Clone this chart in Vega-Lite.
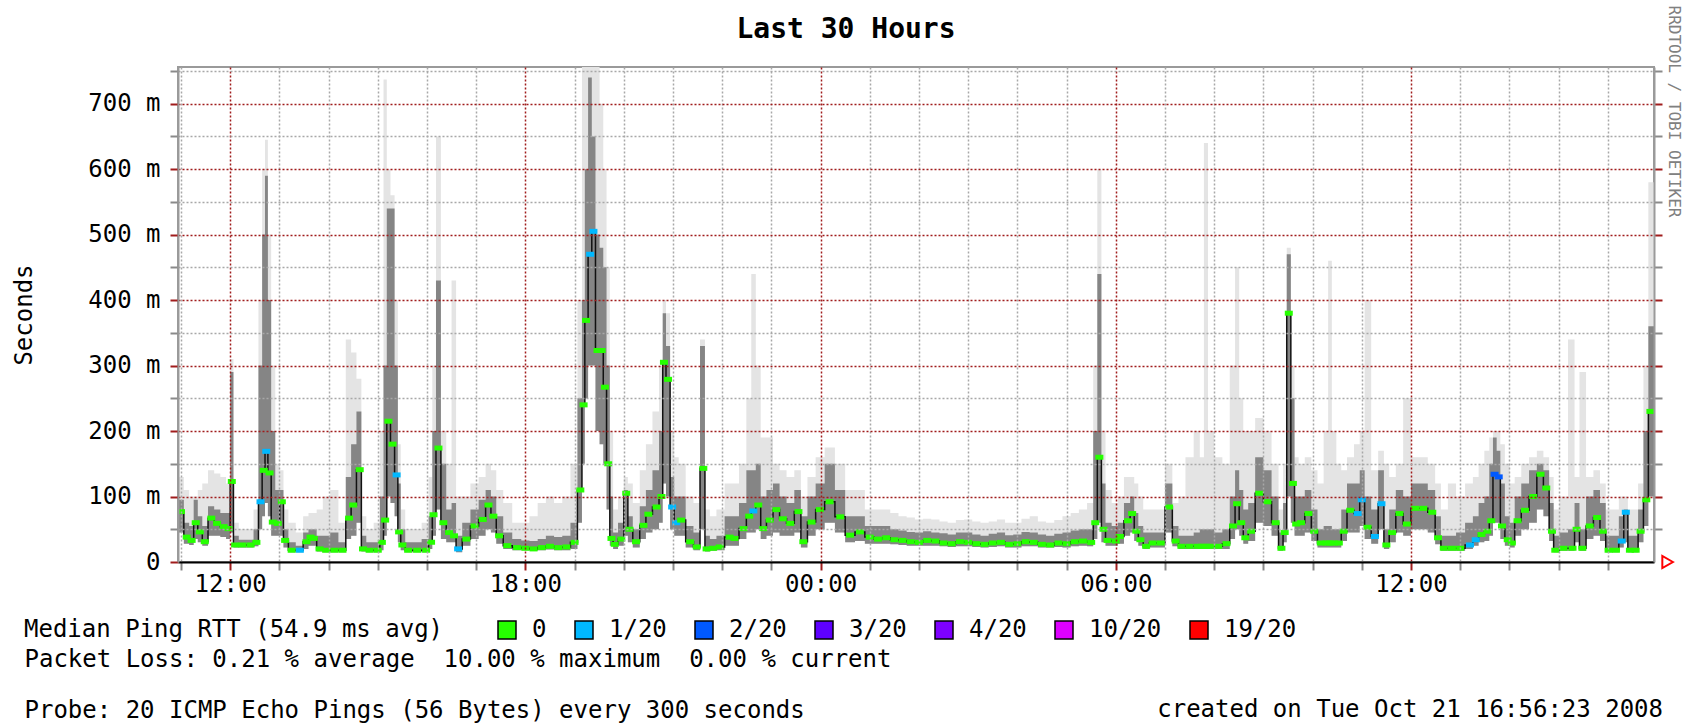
{
  "$schema": "https://vega.github.io/schema/vega-lite/v6.json",
  "width": 1476,
  "height": 495,
  "autosize": "none",
  "padding": {"left": 178, "top": 67, "right": 41, "bottom": 162},
  "background": "white",
  "config": {"view": {"stroke": "#9a9a9a", "strokeWidth": 2}, "font": "DejaVu Sans Mono"},
  "title": {"text": "Last 30 Hours", "anchor": "middle", "dx": -70, "offset": -39, "fontSize": 28, "fontWeight": "bold", "font": "DejaVu Sans Mono", "color": "black"},
  "datasets": {
    "ping": [
      {"m":650,"d":70,"a":45,"b":95,"c":130,"l":0},
      {"m":660,"d":77,"a":45,"b":95,"c":130,"l":0},
      {"m":667,"d":38,"a":28,"b":60,"c":110,"l":0},
      {"m":673,"d":33,"a":26,"b":55,"c":100,"l":0},
      {"m":678,"d":60,"a":35,"b":95,"c":100,"l":0},
      {"m":683,"d":46,"a":30,"b":70,"c":110,"l":0},
      {"m":689,"d":31,"a":25,"b":55,"c":120,"l":0},
      {"m":697,"d":67,"a":40,"b":85,"c":140,"l":0},
      {"m":704,"d":59,"a":40,"b":80,"c":135,"l":0},
      {"m":712,"d":54,"a":38,"b":75,"c":130,"l":0},
      {"m":718,"d":51,"a":35,"b":75,"c":120,"l":0},
      {"m":722,"d":123,"a":45,"b":290,"c":310,"l":0},
      {"m":726,"d":26,"a":22,"b":40,"c":60,"l":0},
      {"m":735,"d":26,"a":22,"b":34,"c":50,"l":0},
      {"m":745,"d":26,"a":22,"b":34,"c":50,"l":0},
      {"m":752,"d":30,"a":24,"b":50,"c":80,"l":0},
      {"m":757,"d":92,"a":50,"b":300,"c":400,"l":1},
      {"m":761,"d":140,"a":70,"b":500,"c":600,"l":0},
      {"m":764,"d":169,"a":90,"b":590,"c":645,"l":1},
      {"m":768,"d":136,"a":70,"b":400,"c":500,"l":0},
      {"m":772,"d":61,"a":40,"b":200,"c":300,"l":0},
      {"m":778,"d":59,"a":40,"b":110,"c":150,"l":0},
      {"m":783,"d":92,"a":40,"b":110,"c":140,"l":0},
      {"m":787,"d":33,"a":22,"b":50,"c":80,"l":0},
      {"m":795,"d":18,"a":15,"b":30,"c":60,"l":0},
      {"m":805,"d":18,"a":15,"b":25,"c":45,"l":1},
      {"m":813,"d":31,"a":20,"b":45,"c":70,"l":0},
      {"m":818,"d":38,"a":25,"b":50,"c":75,"l":0},
      {"m":822,"d":36,"a":25,"b":50,"c":75,"l":0},
      {"m":829,"d":20,"a":16,"b":40,"c":80,"l":0},
      {"m":837,"d":18,"a":15,"b":40,"c":100,"l":0},
      {"m":847,"d":18,"a":15,"b":45,"c":110,"l":0},
      {"m":857,"d":18,"a":15,"b":30,"c":60,"l":0},
      {"m":865,"d":67,"a":35,"b":130,"c":340,"l":0},
      {"m":870,"d":87,"a":40,"b":180,"c":320,"l":0},
      {"m":878,"d":141,"a":60,"b":230,"c":280,"l":0},
      {"m":882,"d":20,"a":16,"b":40,"c":70,"l":0},
      {"m":890,"d":18,"a":15,"b":30,"c":50,"l":0},
      {"m":900,"d":18,"a":15,"b":30,"c":60,"l":0},
      {"m":905,"d":30,"a":18,"b":100,"c":200,"l":0},
      {"m":909,"d":64,"a":40,"b":300,"c":737,"l":0},
      {"m":913,"d":215,"a":100,"b":540,"c":600,"l":0},
      {"m":918,"d":180,"a":90,"b":540,"c":560,"l":0},
      {"m":923,"d":133,"a":70,"b":300,"c":400,"l":1},
      {"m":926,"d":46,"a":30,"b":120,"c":180,"l":0},
      {"m":930,"d":26,"a":18,"b":50,"c":80,"l":0},
      {"m":937,"d":18,"a":15,"b":30,"c":50,"l":0},
      {"m":948,"d":18,"a":15,"b":30,"c":50,"l":0},
      {"m":959,"d":18,"a":15,"b":35,"c":60,"l":0},
      {"m":965,"d":30,"a":20,"b":70,"c":130,"l":0},
      {"m":968,"d":72,"a":40,"b":200,"c":300,"l":0},
      {"m":974,"d":174,"a":80,"b":430,"c":650,"l":0},
      {"m":980,"d":60,"a":35,"b":150,"c":200,"l":0},
      {"m":987,"d":45,"a":30,"b":80,"c":150,"l":0},
      {"m":993,"d":40,"a":30,"b":90,"c":430,"l":0},
      {"m":998,"d":20,"a":15,"b":40,"c":100,"l":1},
      {"m":1008,"d":35,"a":25,"b":60,"c":100,"l":0},
      {"m":1018,"d":55,"a":35,"b":80,"c":120,"l":0},
      {"m":1028,"d":65,"a":40,"b":95,"c":130,"l":0},
      {"m":1035,"d":87,"a":50,"b":110,"c":150,"l":0},
      {"m":1041,"d":70,"a":45,"b":100,"c":140,"l":0},
      {"m":1048,"d":40,"a":28,"b":70,"c":110,"l":0},
      {"m":1058,"d":25,"a":20,"b":45,"c":90,"l":0},
      {"m":1070,"d":22,"a":18,"b":35,"c":60,"l":0},
      {"m":1080,"d":21,"a":18,"b":33,"c":60,"l":0},
      {"m":1090,"d":20,"a":17,"b":32,"c":70,"l":0},
      {"m":1100,"d":22,"a":18,"b":35,"c":90,"l":0},
      {"m":1110,"d":24,"a":19,"b":40,"c":100,"l":0},
      {"m":1120,"d":22,"a":18,"b":38,"c":90,"l":0},
      {"m":1130,"d":23,"a":18,"b":40,"c":100,"l":0},
      {"m":1140,"d":30,"a":20,"b":60,"c":150,"l":0},
      {"m":1147,"d":110,"a":60,"b":250,"c":400,"l":0},
      {"m":1151,"d":240,"a":150,"b":400,"c":756,"l":0},
      {"m":1154,"d":369,"a":250,"b":600,"c":756,"l":0},
      {"m":1159,"d":470,"a":300,"b":740,"c":756,"l":1},
      {"m":1163,"d":505,"a":300,"b":650,"c":756,"l":1},
      {"m":1168,"d":323,"a":200,"b":500,"c":756,"l":0},
      {"m":1173,"d":323,"a":180,"b":480,"c":700,"l":0},
      {"m":1177,"d":267,"a":150,"b":450,"c":600,"l":0},
      {"m":1181,"d":150,"a":80,"b":300,"c":450,"l":0},
      {"m":1185,"d":36,"a":25,"b":100,"c":200,"l":0},
      {"m":1189,"d":27,"a":20,"b":45,"c":80,"l":0},
      {"m":1197,"d":35,"a":25,"b":60,"c":100,"l":0},
      {"m":1203,"d":105,"a":40,"b":110,"c":130,"l":0},
      {"m":1207,"d":50,"a":30,"b":70,"c":120,"l":0},
      {"m":1215,"d":31,"a":22,"b":50,"c":90,"l":0},
      {"m":1224,"d":56,"a":35,"b":85,"c":140,"l":0},
      {"m":1230,"d":73,"a":45,"b":110,"c":180,"l":0},
      {"m":1240,"d":84,"a":50,"b":140,"c":230,"l":0},
      {"m":1246,"d":100,"a":60,"b":200,"c":300,"l":0},
      {"m":1249,"d":305,"a":120,"b":380,"c":400,"l":0},
      {"m":1254,"d":279,"a":100,"b":330,"c":380,"l":0},
      {"m":1259,"d":84,"a":50,"b":130,"c":200,"l":1},
      {"m":1264,"d":60,"a":40,"b":100,"c":160,"l":1},
      {"m":1270,"d":64,"a":40,"b":100,"c":150,"l":0},
      {"m":1281,"d":31,"a":22,"b":55,"c":100,"l":0},
      {"m":1289,"d":23,"a":18,"b":45,"c":90,"l":0},
      {"m":1297,"d":143,"a":50,"b":330,"c":340,"l":0},
      {"m":1301,"d":20,"a":16,"b":40,"c":80,"l":0},
      {"m":1309,"d":21,"a":17,"b":35,"c":70,"l":0},
      {"m":1317,"d":23,"a":18,"b":40,"c":80,"l":0},
      {"m":1329,"d":38,"a":25,"b":70,"c":120,"l":0},
      {"m":1335,"d":36,"a":25,"b":70,"c":120,"l":0},
      {"m":1346,"d":51,"a":35,"b":90,"c":150,"l":0},
      {"m":1353,"d":70,"a":45,"b":140,"c":250,"l":0},
      {"m":1358,"d":78,"a":45,"b":140,"c":440,"l":1},
      {"m":1364,"d":87,"a":50,"b":150,"c":300,"l":0},
      {"m":1370,"d":51,"a":35,"b":100,"c":190,"l":0},
      {"m":1378,"d":64,"a":40,"b":110,"c":190,"l":0},
      {"m":1386,"d":80,"a":45,"b":120,"c":150,"l":0},
      {"m":1394,"d":66,"a":40,"b":100,"c":140,"l":0},
      {"m":1403,"d":59,"a":40,"b":90,"c":130,"l":0},
      {"m":1413,"d":77,"a":45,"b":110,"c":140,"l":0},
      {"m":1419,"d":31,"a":22,"b":70,"c":100,"l":0},
      {"m":1429,"d":61,"a":40,"b":100,"c":130,"l":0},
      {"m":1439,"d":80,"a":50,"b":120,"c":160,"l":0},
      {"m":1451,"d":92,"a":60,"b":150,"c":175,"l":0},
      {"m":1464,"d":69,"a":45,"b":110,"c":150,"l":0},
      {"m":1476,"d":41,"a":30,"b":70,"c":110,"l":0},
      {"m":1488,"d":46,"a":32,"b":70,"c":110,"l":0},
      {"m":1500,"d":38,"a":28,"b":55,"c":80,"l":0},
      {"m":1510,"d":35,"a":28,"b":55,"c":80,"l":0},
      {"m":1520,"d":37,"a":28,"b":55,"c":80,"l":0},
      {"m":1530,"d":34,"a":27,"b":50,"c":75,"l":0},
      {"m":1540,"d":33,"a":26,"b":48,"c":70,"l":0},
      {"m":1550,"d":31,"a":25,"b":46,"c":68,"l":0},
      {"m":1560,"d":30,"a":25,"b":45,"c":65,"l":0},
      {"m":1570,"d":33,"a":25,"b":47,"c":66,"l":0},
      {"m":1580,"d":32,"a":25,"b":45,"c":65,"l":0},
      {"m":1590,"d":29,"a":24,"b":44,"c":62,"l":0},
      {"m":1600,"d":28,"a":23,"b":42,"c":60,"l":0},
      {"m":1610,"d":31,"a":24,"b":45,"c":64,"l":0},
      {"m":1620,"d":30,"a":24,"b":45,"c":65,"l":0},
      {"m":1630,"d":28,"a":23,"b":42,"c":62,"l":0},
      {"m":1640,"d":27,"a":22,"b":40,"c":60,"l":0},
      {"m":1650,"d":29,"a":23,"b":43,"c":62,"l":0},
      {"m":1660,"d":30,"a":24,"b":45,"c":65,"l":0},
      {"m":1670,"d":27,"a":22,"b":41,"c":60,"l":0},
      {"m":1680,"d":28,"a":22,"b":42,"c":60,"l":0},
      {"m":1690,"d":31,"a":24,"b":46,"c":66,"l":0},
      {"m":1700,"d":30,"a":24,"b":45,"c":70,"l":0},
      {"m":1710,"d":27,"a":22,"b":42,"c":62,"l":0},
      {"m":1720,"d":26,"a":22,"b":40,"c":60,"l":0},
      {"m":1730,"d":29,"a":23,"b":43,"c":64,"l":0},
      {"m":1740,"d":28,"a":22,"b":45,"c":70,"l":0},
      {"m":1750,"d":31,"a":24,"b":48,"c":75,"l":0},
      {"m":1760,"d":32,"a":25,"b":50,"c":80,"l":0},
      {"m":1770,"d":30,"a":24,"b":50,"c":90,"l":0},
      {"m":1775,"d":60,"a":35,"b":200,"c":300,"l":0},
      {"m":1780,"d":160,"a":60,"b":440,"c":600,"l":0},
      {"m":1785,"d":50,"a":30,"b":120,"c":200,"l":0},
      {"m":1790,"d":33,"a":25,"b":60,"c":110,"l":0},
      {"m":1800,"d":32,"a":25,"b":55,"c":90,"l":0},
      {"m":1805,"d":39,"a":28,"b":60,"c":100,"l":0},
      {"m":1815,"d":63,"a":40,"b":90,"c":130,"l":0},
      {"m":1820,"d":74,"a":45,"b":100,"c":130,"l":0},
      {"m":1825,"d":47,"a":32,"b":75,"c":120,"l":0},
      {"m":1830,"d":34,"a":25,"b":55,"c":100,"l":0},
      {"m":1837,"d":24,"a":20,"b":45,"c":80,"l":0},
      {"m":1845,"d":29,"a":22,"b":45,"c":80,"l":0},
      {"m":1855,"d":29,"a":22,"b":45,"c":80,"l":0},
      {"m":1865,"d":84,"a":45,"b":120,"c":150,"l":0},
      {"m":1873,"d":32,"a":24,"b":55,"c":90,"l":0},
      {"m":1880,"d":24,"a":20,"b":40,"c":100,"l":0},
      {"m":1890,"d":24,"a":20,"b":40,"c":160,"l":0},
      {"m":1900,"d":24,"a":20,"b":45,"c":200,"l":0},
      {"m":1905,"d":24,"a":20,"b":50,"c":160,"l":0},
      {"m":1910,"d":24,"a":20,"b":50,"c":640,"l":0},
      {"m":1915,"d":24,"a":20,"b":50,"c":200,"l":0},
      {"m":1925,"d":24,"a":20,"b":45,"c":160,"l":0},
      {"m":1935,"d":28,"a":20,"b":50,"c":150,"l":0},
      {"m":1943,"d":55,"a":35,"b":100,"c":300,"l":0},
      {"m":1948,"d":89,"a":50,"b":140,"c":450,"l":0},
      {"m":1953,"d":60,"a":40,"b":110,"c":250,"l":0},
      {"m":1958,"d":37,"a":28,"b":80,"c":200,"l":0},
      {"m":1965,"d":47,"a":32,"b":90,"c":200,"l":0},
      {"m":1975,"d":105,"a":60,"b":160,"c":220,"l":0},
      {"m":1985,"d":92,"a":55,"b":140,"c":200,"l":0},
      {"m":1995,"d":60,"a":40,"b":100,"c":150,"l":0},
      {"m":2002,"d":21,"a":17,"b":45,"c":80,"l":0},
      {"m":2006,"d":45,"a":30,"b":90,"c":150,"l":0},
      {"m":2011,"d":380,"a":100,"b":470,"c":480,"l":0},
      {"m":2016,"d":120,"a":60,"b":250,"c":300,"l":0},
      {"m":2020,"d":58,"a":40,"b":100,"c":160,"l":0},
      {"m":2026,"d":60,"a":40,"b":100,"c":150,"l":0},
      {"m":2035,"d":74,"a":45,"b":110,"c":160,"l":0},
      {"m":2042,"d":47,"a":32,"b":80,"c":140,"l":0},
      {"m":2050,"d":29,"a":22,"b":50,"c":120,"l":0},
      {"m":2057,"d":29,"a":22,"b":55,"c":200,"l":0},
      {"m":2061,"d":29,"a":22,"b":55,"c":460,"l":0},
      {"m":2066,"d":29,"a":22,"b":50,"c":200,"l":0},
      {"m":2072,"d":29,"a":22,"b":50,"c":150,"l":0},
      {"m":2078,"d":47,"a":32,"b":80,"c":140,"l":0},
      {"m":2086,"d":79,"a":45,"b":120,"c":160,"l":0},
      {"m":2095,"d":74,"a":45,"b":120,"c":180,"l":1},
      {"m":2100,"d":95,"a":55,"b":140,"c":200,"l":1},
      {"m":2107,"d":53,"a":35,"b":100,"c":400,"l":0},
      {"m":2116,"d":39,"a":28,"b":80,"c":140,"l":1},
      {"m":2124,"d":89,"a":50,"b":140,"c":170,"l":1},
      {"m":2130,"d":26,"a":20,"b":50,"c":150,"l":0},
      {"m":2137,"d":45,"a":30,"b":80,"c":130,"l":0},
      {"m":2146,"d":74,"a":45,"b":110,"c":150,"l":0},
      {"m":2155,"d":58,"a":40,"b":100,"c":250,"l":0},
      {"m":2165,"d":82,"a":50,"b":120,"c":160,"l":0},
      {"m":2175,"d":82,"a":50,"b":120,"c":160,"l":0},
      {"m":2186,"d":76,"a":45,"b":110,"c":150,"l":0},
      {"m":2193,"d":37,"a":27,"b":70,"c":120,"l":0},
      {"m":2200,"d":21,"a":17,"b":40,"c":80,"l":0},
      {"m":2210,"d":21,"a":17,"b":40,"c":120,"l":0},
      {"m":2220,"d":21,"a":17,"b":45,"c":100,"l":0},
      {"m":2232,"d":26,"a":20,"b":60,"c":120,"l":1},
      {"m":2239,"d":34,"a":25,"b":70,"c":130,"l":1},
      {"m":2246,"d":42,"a":30,"b":90,"c":150,"l":0},
      {"m":2253,"d":47,"a":32,"b":100,"c":170,"l":0},
      {"m":2258,"d":63,"a":40,"b":150,"c":190,"l":0},
      {"m":2262,"d":134,"a":60,"b":190,"c":200,"l":2},
      {"m":2267,"d":130,"a":60,"b":170,"c":200,"l":2},
      {"m":2271,"d":55,"a":35,"b":120,"c":180,"l":0},
      {"m":2278,"d":34,"a":25,"b":70,"c":150,"l":0},
      {"m":2283,"d":29,"a":22,"b":60,"c":120,"l":0},
      {"m":2290,"d":63,"a":40,"b":100,"c":130,"l":0},
      {"m":2299,"d":79,"a":50,"b":120,"c":150,"l":0},
      {"m":2309,"d":100,"a":60,"b":140,"c":160,"l":0},
      {"m":2318,"d":134,"a":80,"b":150,"c":170,"l":0},
      {"m":2325,"d":113,"a":70,"b":140,"c":160,"l":0},
      {"m":2332,"d":47,"a":32,"b":90,"c":130,"l":0},
      {"m":2336,"d":18,"a":15,"b":40,"c":80,"l":0},
      {"m":2346,"d":21,"a":17,"b":45,"c":100,"l":0},
      {"m":2357,"d":21,"a":17,"b":50,"c":340,"l":0},
      {"m":2362,"d":50,"a":30,"b":90,"c":130,"l":0},
      {"m":2369,"d":21,"a":17,"b":50,"c":290,"l":0},
      {"m":2378,"d":55,"a":35,"b":100,"c":130,"l":0},
      {"m":2387,"d":68,"a":40,"b":110,"c":140,"l":0},
      {"m":2394,"d":47,"a":32,"b":90,"c":120,"l":0},
      {"m":2401,"d":18,"a":15,"b":40,"c":80,"l":0},
      {"m":2410,"d":18,"a":15,"b":40,"c":80,"l":0},
      {"m":2417,"d":32,"a":22,"b":70,"c":100,"l":1},
      {"m":2422,"d":76,"a":30,"b":80,"c":100,"l":1},
      {"m":2427,"d":18,"a":15,"b":40,"c":80,"l":0},
      {"m":2434,"d":18,"a":15,"b":40,"c":80,"l":0},
      {"m":2440,"d":47,"a":30,"b":80,"c":120,"l":0},
      {"m":2447,"d":95,"a":55,"b":200,"c":300,"l":0},
      {"m":2452,"d":230,"a":100,"b":360,"c":580,"l":0},
      {"m":2458,"d":230,"a":100,"b":360,"c":580,"l":0}
    ],
    "note": [{"txt": "created on Tue Oct 21 16:56:23 2008"}],
    "arrow": [{"k": 1}]
  },
  "resolve": {"axis": {"y": "independent"}},
  "layer": [
    {
      "data": {"name": "ping"},
      "mark": {"type": "area", "interpolate": "step", "color": "#e4e4e4", "clip": true},
      "encoding": {
        "x": {
          "field": "m", "type": "quantitative",
          "scale": {"domain": [656.38, 2456.38], "nice": false, "zero": false},
          "axis": {
            "values": [660,720,780,840,900,960,1020,1080,1140,1200,1260,1320,1380,1440,1500,1560,1620,1680,1740,1800,1860,1920,1980,2040,2100,2160,2220,2280,2340,2400],
            "labelExpr": "datum.value % 360 === 0 ? ((floor(datum.value/60)%24 < 10 ? '0' : '') + (floor(datum.value/60)%24) + ':00') : ''",
            "labelFont": "DejaVu Sans Mono", "labelFontSize": 24, "labelColor": "black",
            "labelBaseline": "middle", "labelPadding": 14, "labelFlush": false, "labelOverlap": false,
            "tickSize": 8, "tickWidth": 2,
            "tickColor": {"condition": {"test": "datum.value % 360 === 0", "value": "#a01c1c"}, "value": "#8a8a8a"},
            "domainColor": "black", "domainWidth": 2,
            "grid": true, "gridDash": [2, 2], "gridWidth": 1.5, "gridOpacity": 1,
            "gridColor": {"condition": {"test": "datum.value % 360 === 0", "value": "#a01c1c"}, "value": "#a8a8a8"},
            "title": ["Packet Loss: 0.21 % average\u00a0\u00a010.00 % maximum\u00a0\u00a00.00 % current", "Probe: 20 ICMP Echo Pings (56 Bytes) every 300 seconds"],
            "titleFont": "DejaVu Sans Mono", "titleFontSize": 24, "titleFontWeight": "normal", "titleColor": "black",
            "titleX": -154, "titleY": 104, "titleAlign": "left", "titleAnchor": "start", "titleBaseline": "alphabetic", "titleLineHeight": 51, "titleLimit": 1000,
            "zindex": 1
          }
        },
        "y": {
          "field": "a", "type": "quantitative",
          "scale": {"domain": [0, 756], "nice": false},
          "axis": {
            "orient": "left",
            "values": [0,50,100,150,200,250,300,350,400,450,500,550,600,650,700,750],
            "labelExpr": "datum.value % 100 === 0 ? (datum.value === 0 ? '0' : datum.value + ' m') : ''",
            "labelFont": "DejaVu Sans Mono", "labelFontSize": 24, "labelColor": "black", "labelPadding": 10,
            "tickSize": 8, "tickWidth": 2,
            "tickColor": {"condition": {"test": "datum.value % 100 === 0", "value": "#a01c1c"}, "value": "#8a8a8a"},
            "domainColor": "#9a9a9a", "domainWidth": 2,
            "grid": true, "gridDash": [2, 2], "gridWidth": 1.5, "gridOpacity": 1,
            "gridColor": {"condition": [{"test": "datum.value === 0", "value": "rgba(0,0,0,0)"}, {"test": "datum.value % 100 === 0", "value": "#a01c1c"}], "value": "#a8a8a8"},
            "title": "Seconds", "titleFont": "DejaVu Sans Mono", "titleFontSize": 24, "titleFontWeight": "normal", "titleColor": "black",
            "titleAngle": -90, "titleX": -154, "titleY": 247.5, "titleAlign": "center", "titleBaseline": "middle",
            "zindex": 1
          }
        },
        "y2": {"field": "c"}
      }
    },
    {
      "data": {"name": "ping"},
      "mark": {"type": "area", "interpolate": "step", "color": "#858585", "clip": true},
      "encoding": {
        "x": {"field": "m", "type": "quantitative"},
        "y": {"field": "a", "type": "quantitative", "axis": null},
        "y2": {"field": "b"}
      }
    },
    {
      "data": {"name": "ping"},
      "mark": {"type": "line", "interpolate": "step", "color": "#111111", "strokeWidth": 1.5, "clip": true},
      "encoding": {
        "x": {"field": "m", "type": "quantitative"},
        "y": {
          "field": "d", "type": "quantitative",
          "axis": {
            "orient": "right",
            "values": [50,100,150,200,250,300,350,400,450,500,550,600,650,700,750],
            "labels": false, "grid": false,
            "tickSize": 8, "tickWidth": 2,
            "tickColor": {"condition": {"test": "datum.value % 100 === 0", "value": "#a01c1c"}, "value": "#8a8a8a"},
            "domainColor": "#9a9a9a", "domainWidth": 2,
            "title": "RRDTOOL / TOBI OETIKER", "titleFont": "DejaVu Sans Mono", "titleFontSize": 16, "titleFontWeight": "normal", "titleColor": "#808080",
            "titleAngle": 90, "titleX": 19, "titleY": -62, "titleAlign": "left", "titleBaseline": "middle",
            "zindex": 1
          }
        }
      }
    },
    {
      "data": {"name": "ping"},
      "mark": {"type": "tick", "orient": "horizontal", "size": 8, "thickness": 5, "opacity": 1, "clip": true},
      "encoding": {
        "x": {"field": "m", "type": "quantitative"},
        "y": {"field": "d", "type": "quantitative", "axis": null},
        "color": {
          "field": "l", "type": "ordinal",
          "scale": {"domain": [0, 1, 2, 3, 4, 10, 19], "range": ["#26ff00", "#00b8ff", "#0059ff", "#5e00ff", "#7e00ff", "#dd00ff", "#ff0000"]},
          "legend": {
            "orient": "none", "legendX": -154, "legendY": 551, "direction": "horizontal",
            "values": [0, 1, 2, 3, 4, 10, 19],
            "title": "Median Ping RTT (54.9 ms avg)", "titleOrient": "left", "titleLimit": 1000,
            "titleFont": "DejaVu Sans Mono", "titleFontSize": 24, "titleFontWeight": "normal", "titleColor": "black", "titlePadding": 51,
            "labelExpr": "datum.value == 0 ? '0' : datum.value + '/20'",
            "labelFont": "DejaVu Sans Mono", "labelFontSize": 24, "labelColor": "black", "labelOffset": 13,
            "columnPadding": 25,
            "symbolType": "square", "symbolSize": 324, "symbolStrokeColor": "black", "symbolStrokeWidth": 1.5, "symbolOpacity": 1
          }
        }
      }
    },
    {
      "data": {"name": "note"},
      "mark": {"type": "text", "align": "right", "baseline": "alphabetic", "dx": 9, "dy": 155, "fontSize": 24, "font": "DejaVu Sans Mono", "color": "black", "clip": false},
      "encoding": {
        "x": {"datum": 2456.38, "type": "quantitative"},
        "y": {"datum": 0, "type": "quantitative", "axis": null},
        "text": {"field": "txt"}
      }
    },
    {
      "data": {"name": "arrow"},
      "mark": {"type": "point", "shape": "triangle-right", "size": 150, "filled": false, "color": "#ff0000", "strokeWidth": 2, "opacity": 1, "clip": false},
      "encoding": {
        "x": {"datum": 2473, "type": "quantitative"},
        "y": {"datum": 0, "type": "quantitative", "axis": null}
      }
    }
  ]
}
